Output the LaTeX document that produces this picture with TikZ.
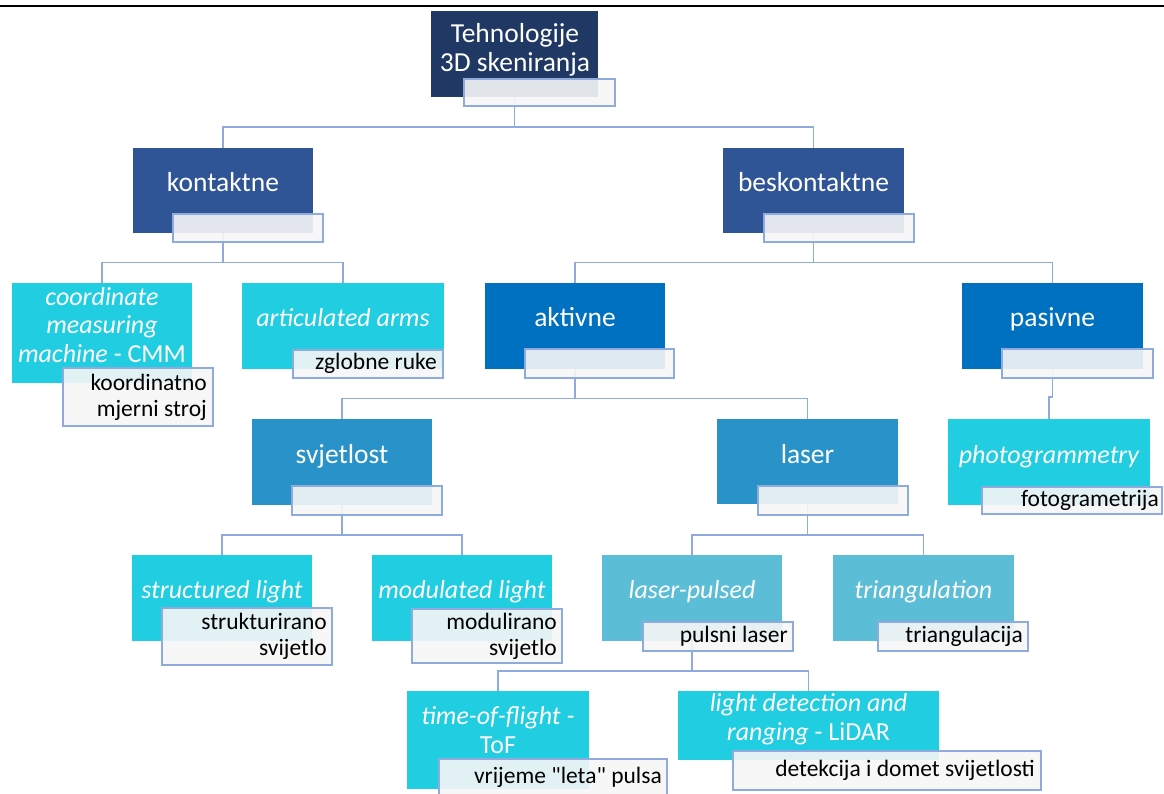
\documentclass[tikz,border=0pt]{standalone}
\usepackage{fontspec}
\setmainfont{Carlito}
\definecolor{cnavy}{RGB}{32,56,100}
\definecolor{cblue}{RGB}{47,85,151}
\definecolor{cmid}{RGB}{0,112,192}
\definecolor{clight}{RGB}{41,147,201}
\definecolor{ccyan}{RGB}{33,205,224}
\definecolor{cteal}{RGB}{91,189,214}
\definecolor{cconn}{RGB}{143,170,220}
\definecolor{clbfill}{RGB}{247,247,247}
\begin{document}
\begin{tikzpicture}[x=1pt,y=-1pt,
  bx/.style={inner sep=0pt, outer sep=0pt, anchor=north west, draw=white, draw opacity=0.25, line width=0.8pt},
  lb/.style={inner sep=0pt, outer sep=0pt, anchor=north west, draw=cconn, line width=1.2pt, fill=clbfill, fill opacity=0.9},
  conn/.style={draw=cconn, line width=1.2pt},
  mt/.style={inner sep=0pt, text=white, align=center, font=\fontsize{27.5}{29}\selectfont},
  it/.style={font=\fontsize{26}{28.6}\selectfont\itshape},
  one/.style={text height=18.5pt, text depth=5.5pt},
  lt/.style={inner sep=0pt, text=black, align=right, anchor=east, font=\fontsize{23.5}{25.8}\selectfont},
  onel/.style={text height=16pt, text depth=5pt}]
\useasboundingbox (0,0) rectangle (1164,794);
\clip (0,0) rectangle (1164,794);
\fill[white] (0,0) rectangle (1164,794);
\draw[line width=2.6pt] (0,6) -- (1164,6);

% bus levels
\coordinate (b1) at (0,127);
\coordinate (b2) at (0,262.5);
\coordinate (b3) at (0,398.5);
\coordinate (b4) at (0,535);
\coordinate (b5) at (0,671);
\coordinate (bj) at (0,397);

% main boxes
\path
 node[bx, fill=cnavy, minimum width=167pt, minimum height=86pt] (root) at (431,11) {}
 node[bx, fill=cblue, minimum width=180pt, minimum height=85pt] (kon) at (133,148) {}
 node[bx, fill=cblue, minimum width=181pt, minimum height=85pt] (besk) at (723,148) {}
 node[bx, fill=ccyan, minimum width=180pt, minimum height=100pt] (cmm) at (12,283) {}
 node[bx, fill=ccyan, minimum width=202pt, minimum height=86pt] (arms) at (242,283) {}
 node[bx, fill=cmid, minimum width=180pt, minimum height=86pt] (akt) at (485,283) {}
 node[bx, fill=cmid, minimum width=181pt, minimum height=86pt] (pas) at (962,283) {}
 node[bx, fill=clight, minimum width=180pt, minimum height=86pt] (svj) at (252,419) {}
 node[bx, fill=clight, minimum width=181pt, minimum height=85pt] (las) at (717,419) {}
 node[bx, fill=ccyan, minimum width=202pt, minimum height=86pt] (photo) at (948,419) {}
 node[bx, fill=ccyan, minimum width=180pt, minimum height=86pt] (struct) at (132,555) {}
 node[bx, fill=ccyan, minimum width=180pt, minimum height=86pt] (modul) at (372,555) {}
 node[bx, fill=cteal, minimum width=180pt, minimum height=86pt] (pulsed) at (602,555) {}
 node[bx, fill=cteal, minimum width=181pt, minimum height=86pt] (tri) at (833,555) {}
 node[bx, fill=ccyan, minimum width=182pt, minimum height=98pt] (tof) at (407,691) {}
 node[bx, fill=ccyan, minimum width=261pt, minimum height=69pt] (lidar) at (678,691) {};

% connectors
\draw[conn] (root.south) -- (root.south |- b1);
\draw[conn] (kon.north) |- (b1 -| root.south) -| (besk.north);
\draw[conn] (kon.south) -- (kon.south |- b2);
\draw[conn] (cmm.north) |- (b2 -| kon.south) -| (arms.north);
\draw[conn] (besk.south) -- (besk.south |- b2);
\draw[conn] (akt.north) |- (b2 -| besk.south) -| (pas.north);
\draw[conn] (akt.south) -- (akt.south |- b3);
\draw[conn] (svj.north) |- (b3 -| akt.south) -| (las.north);
\draw[conn] (pas.south) -- (pas.south |- bj) -| (photo.north);
\draw[conn] (svj.south) -- (svj.south |- b4);
\draw[conn] (struct.north) |- (b4 -| svj.south) -| (modul.north);
\draw[conn] (las.south) -- (las.south |- b4);
\draw[conn] (pulsed.north) |- (b4 -| las.south) -| (tri.north);
\draw[conn] (pulsed.south) -- (pulsed.south |- b5);
\draw[conn] (tof.north) |- (b5 -| pulsed.south) -| (lidar.north);

% boxes on top of connectors
\foreach \n/\c in {root/cnavy,kon/cblue,besk/cblue,cmm/ccyan,arms/ccyan,akt/cmid,pas/cmid,svj/clight,las/clight,photo/ccyan,struct/ccyan,modul/ccyan,pulsed/cteal,tri/cteal,tof/ccyan,lidar/ccyan}
  \fill[\c] (\n.north west) rectangle (\n.south east);

% label boxes
\path
 node[lb, minimum width=151pt, minimum height=27pt] (lroot) at (464,79) {}
 node[lb, minimum width=150pt, minimum height=28pt] (lkon) at (173,214) {}
 node[lb, minimum width=150pt, minimum height=28pt] (lbesk) at (764,214) {}
 node[lb, minimum width=150pt, minimum height=58pt] (lcmm) at (63,368) {}
 node[lb, minimum width=150pt, minimum height=28pt] (larms) at (293,350) {}
 node[lb, minimum width=149pt, minimum height=29pt] (lakt) at (525,349) {}
 node[lb, minimum width=151pt, minimum height=29pt] (lpas) at (1002,349) {}
 node[lb, minimum width=150pt, minimum height=29pt] (lsvj) at (292,486) {}
 node[lb, minimum width=150pt, minimum height=29pt] (llas) at (758,486) {}
 node[lb, minimum width=180pt, minimum height=27pt] (lphoto) at (982,487) {}
 node[lb, minimum width=170pt, minimum height=57pt] (lstruct) at (162,608) {}
 node[lb, minimum width=150pt, minimum height=54pt] (lmodul) at (412,609) {}
 node[lb, minimum width=150pt, minimum height=29pt] (lpulsed) at (643,622) {}
 node[lb, minimum width=150pt, minimum height=29pt] (ltri) at (878,622) {}
 node[lb, minimum width=228pt, minimum height=38pt] (ltof) at (439,759) {}
 node[lb, minimum width=308pt, minimum height=39pt] (llidar) at (733,751) {};

% main texts
\node[mt] (troot) at (515,50) {Tehnologije\\3D skeniranja};
\node[mt, one] (tkon) at (223,185) {kontaktne};
\node[mt, one] (tbesk) at (813.5,185) {beskontaktne};
\node[mt, it] (tcmm) at (102,325) {coordinate\\measuring\\machine\upshape{} - CMM};
\node[mt, it, one] (tarms) at (343,320) {articulated arms};
\node[mt, one] (takt) at (575,320) {aktivne};
\node[mt, one] (tpas) at (1052.5,320) {pasivne};
\node[mt, one] (tsvj) at (342,457) {svjetlost};
\node[mt, one] (tlas) at (807.5,457) {laser};
\node[mt, it, one] (tphoto) at (1049,457) {photogrammetry};
\node[mt, it, one] (tstruct) at (222,592) {structured light};
\node[mt, it, one] (tmodul) at (462,592) {modulated light};
\node[mt, it, one] (tpulsed) at (692,592) {laser-pulsed};
\node[mt, it, one] (ttri) at (923.5,592) {triangulation};
\node[mt, it] (ttof) at (498,730) {time-of-flight -\\\upshape ToF};
\node[mt, it] (tlidar) at (808.5,719) {light detection and\\ranging\upshape{} - LiDAR};

% label texts
\node[lt] (tlcmm) at (207,397) {koordinatno\\mjerni stroj};
\node[lt, onel] (tlarms) at (437,364) {zglobne ruke};
\node[lt, onel] (tlphoto) at (1159,500.5) {fotogrametrija};
\node[lt] (tlstruct) at (327,636.5) {strukturirano\\svijetlo};
\node[lt] (tlmodul) at (557,636) {modulirano\\svijetlo};
\node[lt, onel] (tlpulsed) at (788,636.5) {pulsni laser};
\node[lt, onel] (tltri) at (1023,636.5) {triangulacija};
\node[lt, onel] (tltof) at (662,778) {\addfontfeatures{Ligatures=TeXOff}vrijeme "leta" pulsa};
\node[lt, onel] (tllidar) at (1035,770.5) {detekcija i domet svijetlosti};
\end{tikzpicture}
\end{document}
